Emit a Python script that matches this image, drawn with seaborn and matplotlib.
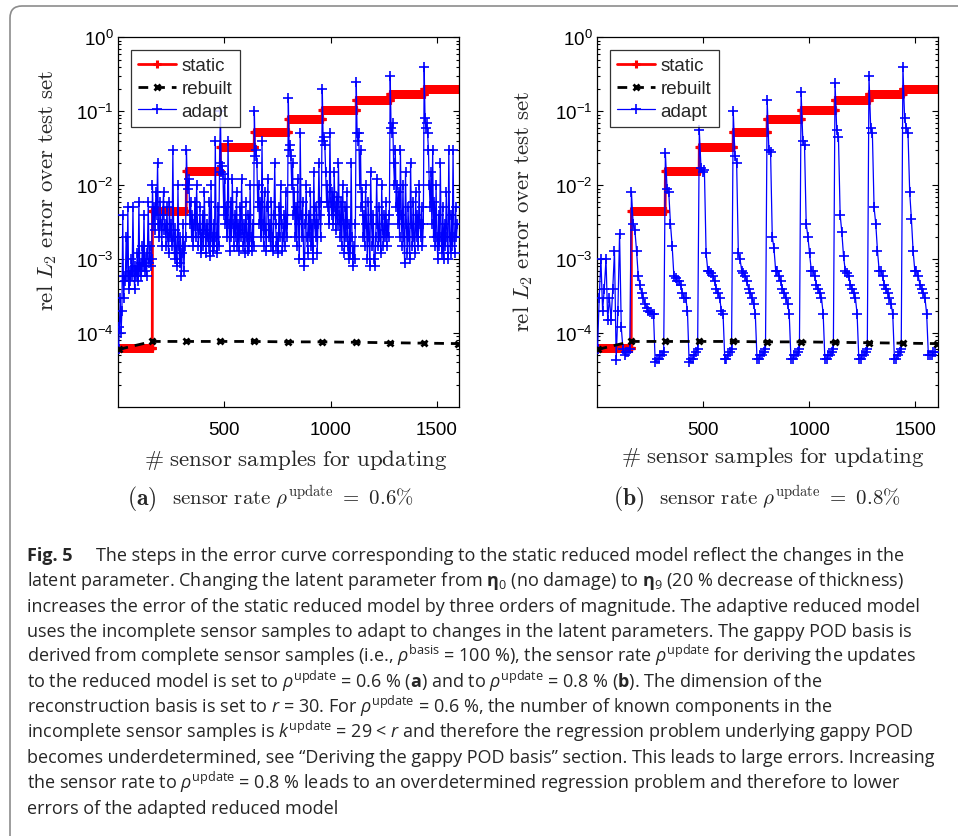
#!/usr/bin/env python3
"""
Fig. 5 - static / rebuilt / adapt reduced model errors for two sensor rates
"""

import numpy as np
import matplotlib
matplotlib.use("Agg")
import matplotlib.pyplot as plt
import seaborn as sns
from matplotlib.patches import FancyBboxPatch
from matplotlib.ticker import FixedLocator, LogLocator, NullFormatter

# static reduced model: one error level per latent parameter eta_0 .. eta_9
static_levels = [6.2e-5, 4.5e-3, 1.55e-2, 3.3e-2, 5.3e-2, 7.8e-2, 1.05e-1, 1.4e-1, 1.7e-1, 2.0e-1]
samples_per_level = 160

# rebuilt reduced model (markers at each parameter change)
rebuilt_samples = [1, 160, 320, 480, 640, 800, 960, 1120, 1280, 1440, 1600]
rebuilt_a = [6.0e-5, 7.7e-5, 7.7e-5, 7.7e-5, 7.7e-5, 7.6e-5, 7.6e-5, 7.5e-5, 7.4e-5, 7.3e-5, 7.2e-5]
rebuilt_b = [6.0e-5, 7.7e-5, 7.7e-5, 7.7e-5, 7.7e-5, 7.6e-5, 7.6e-5, 7.5e-5, 7.4e-5, 7.3e-5, 7.2e-5]

# adaptive reduced model, rho_update = 0.6 %, read every 4th sensor sample
adapt_step_a = 4
adapt_a = [
    6e-5, 1.2e-4, 3e-4, 1e-4, 2e-4, 4e-3, 3e-4, 6e-4, 5e-4, 2e-3,
    6e-4, 5e-3, 4e-4, 7e-4, 5e-4, 1e-3, 6e-4, 5e-3, 7e-4, 4e-4,
    8e-4, 6e-4, 1.2e-3, 5e-4, 6e-3, 7e-4, 9e-4, 6e-4, 1.5e-3, 8e-4,
    4e-3, 7e-4, 1e-3, 6e-4, 1.2e-3, 6e-3, 9e-4, 1.5e-3, 8e-4, 1e-3,
    # eta_1
    1e-2, 3e-3, 5e-3, 2.5e-3, 8e-3, 4e-3, 2e-2, 3e-3, 2e-3, 6e-3,
    3e-3, 1.5e-3, 4e-3, 8e-3, 2.5e-3, 3e-3, 1.5e-3, 5e-3, 2e-3, 1.2e-3,
    6e-3, 2e-3, 3e-3, 1.5e-3, 3e-2, 2e-3, 1e-3, 2.5e-3, 1.2e-3, 8e-4,
    1e-2, 1.5e-3, 9e-4, 2e-3, 6e-4, 1.2e-3, 3e-3, 7e-4, 1.5e-3, 2e-3,
    # eta_2
    3e-2, 1e-2, 9e-3, 1.2e-2, 3e-3, 6e-3, 2e-3, 4e-3, 1.5e-3, 3e-3,
    6e-3, 2e-3, 1e-2, 3e-3, 1.5e-3, 2.5e-3, 5e-3, 1.2e-3, 2e-3, 4e-3,
    1.5e-3, 8e-3, 2.5e-3, 1.2e-3, 3e-3, 2e-3, 1.5e-3, 6e-3, 1.1e-3, 1e-2,
    2e-3, 1.3e-3, 3e-3, 1.5e-3, 4e-2, 2e-3, 1.2e-3, 5e-3, 1.5e-3, 2e-2,
    # eta_3
    1e-1, 1.5e-2, 1.8e-2, 1.4e-2, 4e-3, 1.2e-2, 3e-3, 5e-3, 2e-3, 4e-2,
    3e-3, 1.3e-3, 6e-3, 2e-3, 1.2e-2, 3e-3, 1.5e-3, 4e-3, 2e-3, 8e-3,
    1.5e-3, 3e-3, 1.3e-3, 5e-3, 2e-3, 1.2e-2, 2.5e-3, 1.5e-3, 3e-3, 1.2e-3,
    6e-3, 2e-3, 1.3e-3, 4e-3, 1.5e-3, 1e-2, 2e-3, 1.3e-3, 3e-3, 1.5e-3,
    # eta_4
    1e-1, 2.5e-2, 3e-2, 2e-2, 5e-3, 1e-2, 3e-3, 6e-3, 2e-3, 4e-2,
    3e-3, 1.5e-3, 8e-3, 2.5e-3, 1.3e-3, 5e-3, 1.2e-2, 2e-3, 3e-3, 1.5e-3,
    6e-3, 2e-3, 1.3e-3, 4e-3, 2e-2, 3e-3, 1.5e-3, 2e-3, 1.2e-3, 5e-3,
    2e-3, 1e-2, 3e-3, 1.3e-3, 2e-3, 4e-3, 1.5e-3, 8e-3, 2e-3, 3e-3,
    # eta_5
    1.5e-1, 3e-2, 3.5e-2, 2.5e-2, 1e-2, 2e-2, 4e-3, 8e-3, 2e-3, 5e-3,
    1.5e-3, 1.2e-2, 3e-3, 1e-3, 5e-2, 4e-3, 2e-3, 6e-3, 1e-3, 8e-4,
    3e-3, 1e-2, 2e-3, 1.2e-3, 4e-3, 2e-3, 8e-3, 1.5e-3, 3e-3, 1e-3,
    1.5e-2, 3e-3, 2e-3, 5e-3, 1.2e-3, 3e-3, 2e-2, 4e-3, 2e-3, 6e-3,
    # eta_6
    2e-1, 4e-2, 4.5e-2, 3.5e-2, 1.5e-2, 6e-3, 1e-2, 5e-3, 3e-3, 5e-2,
    6e-3, 4e-3, 8e-3, 3e-3, 1.5e-2, 5e-3, 2.5e-3, 7e-3, 3e-3, 2e-2,
    4e-3, 2e-3, 6e-3, 1.5e-3, 1e-2, 3e-3, 1.2e-3, 5e-3, 2e-3, 8e-3,
    1.5e-3, 1e-3, 3e-3, 1.2e-3, 2e-2, 2e-3, 8e-4, 1.5e-3, 1e-3, 3e-3,
    # eta_7
    2.5e-1, 5e-2, 4e-2, 5e-2, 1e-2, 3e-2, 5e-3, 8e-3, 2e-3, 4e-3,
    1.5e-3, 1e-2, 3e-3, 1e-3, 6e-3, 2e-3, 8e-4, 1.5e-2, 3e-3, 1.5e-3,
    4e-3, 1e-3, 8e-4, 2e-3, 1.2e-2, 3e-3, 1.5e-3, 5e-3, 2e-3, 1.2e-3,
    1e-2, 2.5e-3, 1.5e-3, 4e-3, 2e-3, 6e-3, 1.5e-3, 3e-3, 2e-3, 4e-3,
    # eta_8
    3e-1, 6e-2, 5e-2, 7e-2, 2e-2, 1e-2, 3e-2, 5e-3, 1e-2, 3e-3,
    8e-3, 2e-3, 3e-2, 4e-3, 1.5e-3, 1e-2, 2e-3, 9e-4, 1.5e-2, 3e-3,
    1.2e-3, 5e-3, 2e-3, 1e-3, 2e-2, 3e-3, 1.5e-3, 6e-3, 2e-3, 1.2e-3,
    8e-3, 2e-3, 4e-3, 1.5e-3, 1e-2, 3e-3, 2e-3, 5e-3, 1.5e-3, 3e-3,
    # eta_9
    4e-1, 8e-2, 6e-2, 7e-2, 5e-2, 3e-2, 1e-2, 5e-3, 1.5e-2, 3e-3,
    3e-2, 2e-3, 6e-3, 1.5e-3, 1e-2, 2e-3, 1e-3, 4e-3, 1.5e-3, 2e-2,
    2e-3, 1.2e-3, 5e-3, 1e-3, 3e-3, 1.5e-3, 8e-3, 2e-3, 1e-3, 3e-2,
    2e-3, 1.2e-3, 4e-3, 1.5e-3, 3e-2, 2e-3, 1.2e-3, 5e-3, 2e-3, 3e-3,
]

# adaptive reduced model, rho_update = 0.8 %, read every 8th sensor sample
adapt_step_b = 8
adapt_b = [
    6e-5, 3e-4, 1e-3, 2e-4, 4e-4, 1e-3, 1.5e-4, 3e-4, 1.5e-4, 4e-4, 1.3e-3, 4.3e-5, 2e-4, 2.2e-3, 1.2e-4, 6e-5, 5e-5, 5.5e-5, 5.5e-5, 6e-5,
    8e-3, 3e-3, 2.5e-3, 1.3e-3, 6e-4, 4.5e-4, 3.5e-4, 3e-4, 2.5e-4, 2.2e-4, 2e-4, 1.9e-4, 1.8e-4, 1.8e-4, 4e-5, 4.5e-5, 4.5e-5, 5e-5, 5e-5, 5.5e-5,
    2.7e-2, 9e-3, 8e-3, 3e-3, 1.5e-3, 6e-4, 5.5e-4, 5e-4, 5e-4, 4.5e-4, 3.5e-4, 3e-4, 3e-4, 2e-4, 4e-5, 4.5e-5, 4.5e-5, 5e-5, 5.5e-5, 6e-5,
    5.5e-2, 1.7e-2, 1.5e-2, 1.6e-2, 1.2e-3, 7e-4, 7e-4, 6.5e-4, 6e-4, 5e-4, 4e-4, 3.5e-4, 3e-4, 2e-4, 1.8e-4, 4.5e-5, 4.5e-5, 5e-5, 5.5e-5, 6e-5,
    1e-1, 2.5e-2, 2e-2, 1.2e-3, 1e-3, 7e-4, 6.5e-4, 6e-4, 5e-4, 4e-4, 3.5e-4, 3e-4, 2.5e-4, 1.8e-4, 4.5e-5, 4.5e-5, 5e-5, 5e-5, 5.5e-5, 6e-5,
    1.4e-1, 3e-2, 2.8e-2, 2e-3, 1.4e-3, 7e-4, 7e-4, 6e-4, 5e-4, 4e-4, 3.5e-4, 3e-4, 2.5e-4, 1.8e-4, 4.5e-5, 4.5e-5, 5e-5, 5e-5, 5.5e-5, 6e-5,
    1.8e-1, 4e-2, 3.5e-2, 3e-3, 2e-3, 1.2e-3, 7e-4, 7e-4, 6e-4, 4.5e-4, 4e-4, 3.5e-4, 3e-4, 1.8e-4, 4.5e-5, 4.5e-5, 5e-5, 5e-5, 5.5e-5, 6e-5,
    2.4e-1, 5.5e-2, 4.5e-2, 4e-3, 2.3e-3, 1.1e-3, 7e-4, 6.5e-4, 6e-4, 4.5e-4, 4e-4, 3.5e-4, 3e-4, 1.8e-4, 4.5e-5, 4.5e-5, 5e-5, 5e-5, 5.5e-5, 6e-5,
    3e-1, 6e-2, 5e-2, 5e-3, 3e-3, 1.3e-3, 7e-4, 7e-4, 6e-4, 4.5e-4, 4e-4, 3.5e-4, 3e-4, 2.5e-4, 1.8e-4, 4.5e-5, 4.5e-5, 5e-5, 5.5e-5, 6e-5,
    4e-1, 8e-2, 6e-2, 5e-2, 8e-3, 3.5e-3, 1.3e-3, 7e-4, 7e-4, 6e-4, 4.5e-4, 4e-4, 3.5e-4, 3e-4, 1.8e-4, 5e-5, 5e-5, 5e-5, 5.5e-5, 5.5e-5,
]

panel_tags = [r"$\mathbf{(a)}$", r"$\mathbf{(b)}$"]
panel_rates = [
    r"$\mathrm{sensor\ rate}\ \rho^{\mathrm{update}}\ =\ 0.6\%$",
    r"$\mathrm{sensor\ rate}\ \rho^{\mathrm{update}}\ =\ 0.8\%$",
]

caption_lines = [
    "The steps in the error curve corresponding to the static reduced model reflect the changes in the",
    r"latent parameter. Changing the latent parameter from $\mathbf{\eta}_0$ (no damage) to $\mathbf{\eta}_9$ (20 % decrease of thickness)",
    "increases the error of the static reduced model by three orders of magnitude. The adaptive reduced model",
    "uses the incomplete sensor samples to adapt to changes in the latent parameters. The gappy POD basis is",
    r"derived from complete sensor samples (i.e., $\rho^{\mathrm{basis}}$ = 100 %), the sensor rate $\rho^{\mathrm{update}}$ for deriving the updates",
    r"to the reduced model is set to $\rho^{\mathrm{update}}$ = 0.6 % ($\mathbf{a}$) and to $\rho^{\mathrm{update}}$ = 0.8 % ($\mathbf{b}$). The dimension of the",
    r"reconstruction basis is set to $r$ = 30. For $\rho^{\mathrm{update}}$ = 0.6 %, the number of known components in the",
    r"incomplete sensor samples is $k^{\mathrm{update}}$ = 29 < $r$ and therefore the regression problem underlying gappy POD",
    "becomes underdetermined, see \u201cDeriving the gappy POD basis\u201d section. This leads to large errors. Increasing",
    r"the sensor rate to $\rho^{\mathrm{update}}$ = 0.8 % leads to an overdetermined regression problem and therefore to lower",
    "errors of the adapted reduced model",
]

W, H = 958, 837


def px(x, y):
    """pixel (from top-left) -> figure fraction"""
    return x / W, 1 - y / H


sns.set_style("ticks")
plt.rcParams['font.family'] = ['Liberation Sans', 'DejaVu Sans']
plt.rcParams['mathtext.fontset'] = 'custom'
plt.rcParams['mathtext.rm'] = 'Open Sans'
plt.rcParams['mathtext.it'] = 'Open Sans:italic'
plt.rcParams['mathtext.bf'] = 'Open Sans:bold'
plt.rcParams['mathtext.sf'] = 'Open Sans'

fig = plt.figure(figsize=(W / 100, H / 100), dpi=100, facecolor='white')

static_x = np.arange(1, len(static_levels) * samples_per_level + 1)
static_y = np.repeat(static_levels, samples_per_level)

panels = [
    # axes box in pixels: left, top, right, bottom
    dict(box=(118.3, 38.3, 459.0, 408.0), adapt=adapt_a, step=adapt_step_a, rebuilt=rebuilt_a,
         ylab=(47, 190), xlab=(296, 460), tag=(127, 505), rate=(172, 505)),
    dict(box=(597.3, 38.3, 937.7, 408.0), adapt=adapt_b, step=adapt_step_b, rebuilt=rebuilt_b,
         ylab=(523, 211), xlab=(773, 457), tag=(613, 505), rate=(659, 505)),
]

for i, p in enumerate(panels):
    l, t, r, b = p['box']
    ax = fig.add_axes([l / W, 1 - b / H, (r - l) / W, (b - t) / H])
    adapt_x = np.arange(1, len(p['adapt']) * p['step'] + 1, p['step'])

    sns.lineplot(x=static_x, y=static_y, ax=ax, estimator=None, color='#ff0000', linewidth=2,
                 marker='+', markersize=5.5, markeredgewidth=2.2, markeredgecolor='#ff0000',
                 label='static', zorder=2)
    sns.lineplot(x=rebuilt_samples, y=p['rebuilt'], ax=ax, estimator=None, color='black',
                 linewidth=2, linestyle=(0, (3.5, 2.5)), marker='x', markersize=5,
                 markeredgewidth=2, markeredgecolor='black', label='rebuilt', zorder=4)
    sns.lineplot(x=adapt_x, y=p['adapt'], ax=ax, estimator=None, color='#0000ff', linewidth=0.9,
                 marker='+', markersize=7, markeredgewidth=1.2, markeredgecolor='#0000ff',
                 label='adapt', zorder=3)

    ax.set_yscale('log')
    ax.set_ylim(1e-5, 1)
    ax.set_xlim(0, 1605)
    ax.set_xticks([500, 1000, 1500])
    ax.yaxis.set_major_locator(FixedLocator([1e-4, 1e-3, 1e-2, 1e-1, 1e0]))
    ax.yaxis.set_minor_locator(LogLocator(base=10, subs=np.arange(2, 10), numticks=20))
    ax.yaxis.set_minor_formatter(NullFormatter())
    ax.tick_params(which='both', direction='in', top=True, right=True, labelsize=13.5,
                   colors='black', width=0.8)
    ax.tick_params(which='major', length=4)
    ax.tick_params(which='minor', length=2.5)
    ax.tick_params(axis='x', pad=10)
    for s in ax.spines.values():
        s.set_visible(True)
        s.set_color('black')
        s.set_linewidth(0.9)
    ax.set_xlabel('')
    ax.set_ylabel('')

    leg = ax.legend(loc='upper left', bbox_to_anchor=(0.037, 0.966), borderaxespad=0,
                    fontsize=13.5, frameon=True, fancybox=False, edgecolor='black',
                    handlelength=2.0, labelspacing=0.3, borderpad=0.4, handletextpad=0.3)
    leg.get_frame().set_linewidth(0.9)

    fig.text(*px(*p['ylab']), r"$\mathrm{rel}\ L_2\ \mathrm{error\ over\ test\ set}$",
             rotation=90, ha='center', va='center', fontsize=16.5, math_fontfamily='cm')
    fig.text(*px(*p['xlab']), r"$\#\ \mathrm{sensor\ samples\ for\ updating}$",
             ha='center', va='center', fontsize=16.5, math_fontfamily='cm')
    fig.text(*px(*p['tag']), panel_tags[i], ha='left', va='baseline', fontsize=17,
             math_fontfamily='cm')
    fig.text(*px(*p['rate']), panel_rates[i], ha='left', va='baseline', fontsize=15,
             math_fontfamily='cm')

# rounded frame around figure + caption (runs off the right/bottom edges)
frame = FancyBboxPatch((10, -30), 1000, H - 7 + 30,
                       boxstyle="round,pad=0,rounding_size=12", transform=None,
                       facecolor='none', edgecolor='#8c8c8c', linewidth=1.2)
fig.patches.append(frame)

cap_font = ['Open Sans', 'DejaVu Sans']
cap_size = 13
base_y = 561
line_gap = 25.3
fig.text(*px(27, base_y), "Fig. 5", ha='left', va='baseline', fontsize=cap_size,
         fontweight='bold', family=cap_font)
for k, line in enumerate(caption_lines):
    x0 = 96 if k == 0 else 27
    fig.text(*px(x0, base_y + k * line_gap), line, ha='left', va='baseline', fontsize=cap_size,
             family=cap_font)

plt.savefig('out.png', dpi=100, facecolor='white')
